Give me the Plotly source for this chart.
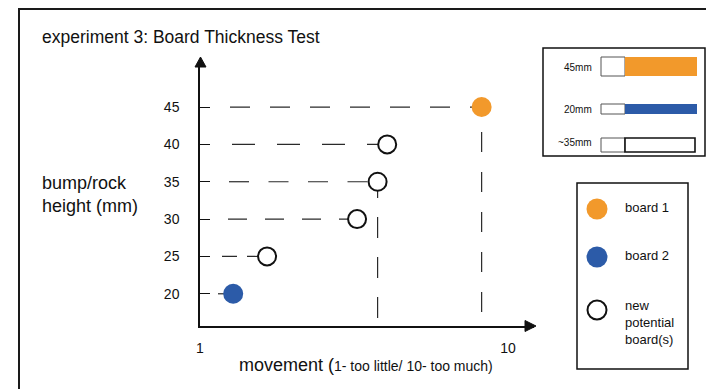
import plotly.graph_objects as go

W, H = 706, 389

# ---------------- data ----------------
x_tick_vals = [1, 10]
x_tick_text = ["1", "10"]
y_tick_vals = [20, 25, 30, 35, 40, 45]

legend_names = ["board 1", "board 2", "new<br>potential<br>board(s)"]

board1_movement = [9.23]
board1_height = [45]
board2_movement = [1.97]
board2_height = [20]
new_movement = [2.96, 5.59, 6.19, 6.47]
new_height = [25, 30, 35, 40]

vertical_guide_heights = [35, 45]

thickness_labels = ["45mm", "20mm", "~35mm"]
thickness_mm = [45, 20, 35]

# ---------------- styles ----------------
ORANGE = "#F2992B"
BLUE = "#2C5BA8"
INK = "#111111"
DASH_INK = "#2a2a2a"
FONT = "Liberation Sans, Arial, Helvetica, sans-serif"

# pixel geometry of the drawing (page pixels)
X0_PX, X_PER = 200.0, 34.22           # movement 1 sits at 200px
Y_REF_PX, Y_REF_VAL, Y_PER = 200.4, 32.5, 7.47
AX_LEFT, AX_RIGHT, AX_TOP, AX_BOTTOM = 200, 534, 62, 326


def xval(px):
    return 1 + (px - X0_PX) / X_PER


def yval(py):
    return Y_REF_VAL + (Y_REF_PX - py) / Y_PER


def pxp(px):
    return px / W


def pyp(py):
    return 1 - py / H


# per-guide styles (offset of first dash from axis, dash pattern)
h_guide_start = {20: 18, 25: 22, 30: 28, 35: 29, 40: 32, 45: 30}
h_guide_dash = {20: "15px,10px", 25: "15px,10px", 30: "19px,18px",
                35: "20px,19.5px", 40: "23px,22px", 45: "20px,20px"}
v_guide_end = {35: 318, 45: 312}
v_guide_dash = {35: "21px,19px", 45: "20px,20px"}

fig = go.Figure()

all_x = board2_movement + new_movement + board1_movement
all_y = board2_height + new_height + board1_height

# dashed guide lines
for mx, hy in zip(all_x, all_y):
    fig.add_trace(go.Scatter(
        x=[xval(AX_LEFT + h_guide_start[hy]), mx], y=[hy, hy], mode="lines",
        line=dict(color=DASH_INK, width=1.2, dash=h_guide_dash[hy]),
        hoverinfo="skip", showlegend=False, cliponaxis=False))
    if hy in vertical_guide_heights:
        fig.add_trace(go.Scatter(
            x=[mx, mx], y=[yval(v_guide_end[hy]), hy], mode="lines",
            line=dict(color=DASH_INK, width=1.2, dash=v_guide_dash[hy]),
            hoverinfo="skip", showlegend=False, cliponaxis=False))

# points
fig.add_trace(go.Scatter(x=board1_movement, y=board1_height, mode="markers",
                         name="board 1", cliponaxis=False,
                         marker=dict(size=20, color=ORANGE, line=dict(width=0))))
fig.add_trace(go.Scatter(x=board2_movement, y=board2_height, mode="markers",
                         name="board 2", cliponaxis=False,
                         marker=dict(size=20, color=BLUE, line=dict(width=0))))
fig.add_trace(go.Scatter(x=new_movement, y=new_height, mode="markers",
                         name="new potential board(s)", cliponaxis=False,
                         marker=dict(size=18, color="white",
                                     line=dict(width=2, color=INK))))

shapes = []
# outer frame: only its top and left edges fall inside the picture
shapes.append(dict(type="line", xref="paper", yref="paper",
                   x0=pxp(18), y0=pyp(9), x1=1, y1=pyp(9),
                   line=dict(color="#1a1a1a", width=2)))
shapes.append(dict(type="line", xref="paper", yref="paper",
                   x0=pxp(19), y0=pyp(8), x1=pxp(19), y1=0,
                   line=dict(color="#1a1a1a", width=2)))
# arrowheads
shapes.append(dict(type="path", xref="paper", yref="paper",
                   path=f"M {pxp(200.5)},{pyp(57)} L {pxp(195)},{pyp(67)} L {pxp(206)},{pyp(67)} Z",
                   fillcolor=INK, line=dict(color=INK, width=1)))
shapes.append(dict(type="path", xref="paper", yref="paper",
                   path=f"M {pxp(536)},{pyp(326)} L {pxp(525)},{pyp(320.5)} L {pxp(525)},{pyp(331.5)} Z",
                   fillcolor=INK, line=dict(color=INK, width=1)))

# thickness box
shapes.append(dict(type="rect", xref="paper", yref="paper",
                   x0=pxp(543), y0=pyp(156), x1=pxp(705), y1=pyp(48),
                   line=dict(color=INK, width=1.5), fillcolor="white", layer="below"))
bar_rows = [(57, 76), (104, 114), (138, 152)]
bar_fill = [ORANGE, BLUE, "white"]
bar_right = [697, 697, 695]
for (t, b), fc, r in zip(bar_rows, bar_fill, bar_right):
    shapes.append(dict(type="rect", xref="paper", yref="paper",
                       x0=pxp(601), y0=pyp(b), x1=pxp(625), y1=pyp(t),
                       line=dict(color="#555555", width=1), fillcolor="white"))
    if fc == "white":
        shapes.append(dict(type="rect", xref="paper", yref="paper",
                           x0=pxp(625), y0=pyp(b), x1=pxp(r), y1=pyp(t),
                           line=dict(color=INK, width=1.6), fillcolor="white"))
    else:
        shapes.append(dict(type="rect", xref="paper", yref="paper",
                           x0=pxp(625), y0=pyp(b), x1=pxp(r), y1=pyp(t),
                           line=dict(width=0), fillcolor=fc))

# legend box
shapes.append(dict(type="rect", xref="paper", yref="paper",
                   x0=pxp(577), y0=pyp(369), x1=pxp(688), y1=pyp(183),
                   line=dict(color=INK, width=1.5), fillcolor="white", layer="below"))
leg_cy = [209, 257, 310]
leg_fill = [ORANGE, BLUE, "white"]
for cy, fc in zip(leg_cy, leg_fill):
    r = 10.5 if fc != "white" else 9.5
    shapes.append(dict(type="circle", xref="paper", yref="paper",
                       x0=pxp(597 - r), x1=pxp(597 + r), y0=pyp(cy + r), y1=pyp(cy - r),
                       fillcolor=fc,
                       line=dict(color=INK if fc == "white" else fc,
                                 width=2 if fc == "white" else 0)))

annotations = []


def add_text(text, px, py, size, xanchor="left", align="left"):
    annotations.append(dict(text=text, x=pxp(px), y=pyp(py), xref="paper", yref="paper",
                            xanchor=xanchor, yanchor="middle", align=align,
                            showarrow=False, borderpad=0,
                            font=dict(family=FONT, size=size, color=INK)))


add_text("experiment 3: Board Thickness Test", 41, 37, 17.5)
add_text("bump/rock<br>height (mm)", 41, 195, 18)
add_text("movement (<span style='font-size:14px'>1- too little/ 10- too much)</span>",
         366, 365, 18, xanchor="center", align="center")

for lab, cy in zip(thickness_labels, [67, 109, 142]):
    add_text(lab, 593, cy, 10, xanchor="right", align="right")

for name, cy in zip(legend_names, [207, 256, 322]):
    add_text(name, 624, cy, 13)

fig.update_layout(
    width=W, height=H,
    margin=dict(l=0, r=0, t=0, b=0),
    paper_bgcolor="white", plot_bgcolor="white",
    showlegend=False,
    font=dict(family=FONT, color=INK),
    shapes=shapes, annotations=annotations,
    xaxis=dict(domain=[pxp(AX_LEFT), pxp(AX_RIGHT)],
               range=[xval(AX_LEFT), xval(AX_RIGHT)],
               showline=True, linecolor=INK, linewidth=1.5,
               showgrid=False, zeroline=False, automargin=False,
               tickmode="array", tickvals=x_tick_vals, ticktext=x_tick_text,
               ticks="", ticklabelstandoff=8,
               tickfont=dict(size=14, family=FONT, color=INK)),
    yaxis=dict(domain=[pyp(AX_BOTTOM), pyp(AX_TOP)],
               range=[yval(AX_BOTTOM), yval(AX_TOP)],
               showline=True, linecolor=INK, linewidth=1.5,
               showgrid=False, zeroline=False, automargin=False,
               tickmode="array", tickvals=y_tick_vals,
               ticks="inside", ticklen=10, tickwidth=1, tickcolor=INK,
               ticklabelstandoff=16,
               tickfont=dict(size=14, family=FONT, color=INK)),
)

page_fix = ("document.documentElement.style.overflow='hidden';"
            "document.body.style.overflow='hidden';"
            "document.body.style.margin='0';")

fig.write_html("out.html", config={"displayModeBar": False}, post_script=page_fix)
